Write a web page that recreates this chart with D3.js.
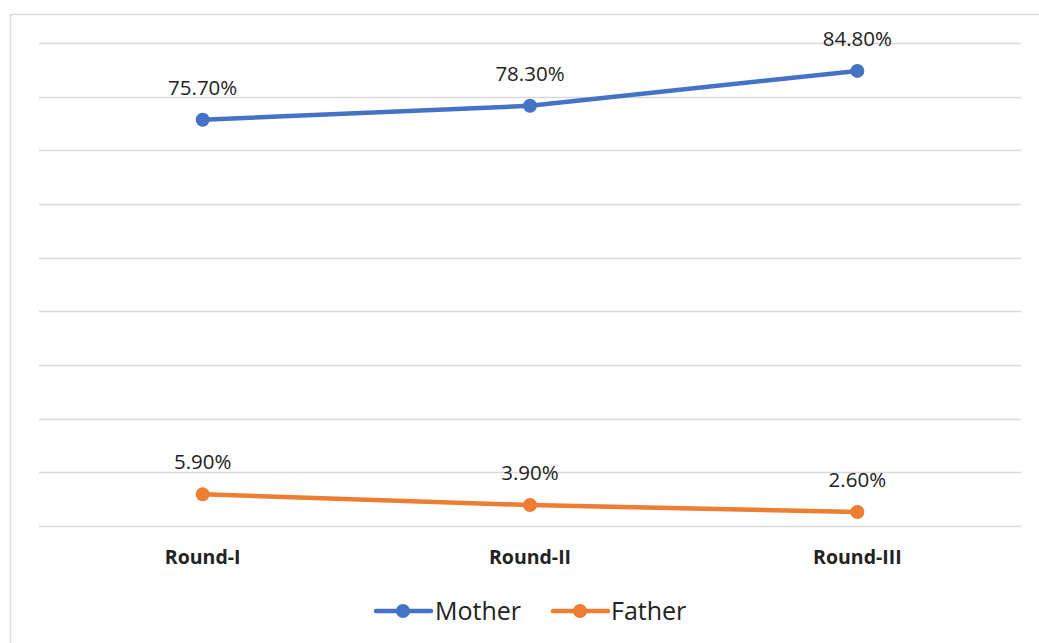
<!DOCTYPE html>
<html>
<head>
<meta charset="utf-8">
<script src="https://cdn.jsdelivr.net/npm/d3@7"></script>
<style>
  body { margin: 0; background: #fff; }
  text { font-family: "Open Sans", "Noto Sans", sans-serif; fill: #222; }
</style>
</head>
<body>
<div id="graphic"></div>
<script>
var rounds = ["Round-I", "Round-II", "Round-III"];
var seriesNames = ["Mother", "Father"];
var motherValues = [75.7, 78.3, 84.8];
var fatherValues = [5.9, 3.9, 2.6];
var yTicks = [0, 10, 20, 30, 40, 50, 60, 70, 80, 90];

var colors = ["#4472c4", "#ed7d31"];

var width = 1039,
    height = 643;

var margin = { top: 43, right: 18, bottom: 117, left: 39 };

var svg = d3.select("#graphic")
    .append("svg")
    .attr("width", width)
    .attr("height", height);

// chart frame
svg.append("rect")
    .attr("x", 10.5)
    .attr("y", 14.5)
    .attr("width", width)
    .attr("height", height)
    .attr("fill", "none")
    .attr("stroke", "#d9d9d9")
    .attr("stroke-width", 1.5);

var x = d3.scaleBand()
    .domain(rounds)
    .range([margin.left, width - margin.right]);

var y = d3.scaleLinear()
    .domain([0, 90])
    .range([height - margin.bottom, margin.top]);

// gridlines
svg.append("g")
    .selectAll("line")
    .data(yTicks)
    .enter().append("line")
    .attr("x1", margin.left)
    .attr("x2", width - margin.right)
    .attr("y1", d => Math.round(y(d)) + 0.5)
    .attr("y2", d => Math.round(y(d)) + 0.5)
    .attr("stroke", "#d9d9d9")
    .attr("stroke-width", 1.5);

// category axis labels
svg.append("g")
    .call(d3.axisBottom(x).tickSize(0).tickPadding(0))
    .attr("transform", "translate(0," + (height - margin.bottom + 24) + ")")
    .call(g => g.select(".domain").remove())
    .selectAll("text")
    .attr("font-size", 19.5)
    .attr("font-weight", "bold")
    .attr("font-family", "'Open Sans', sans-serif")
    .attr("fill", "#222");

var series = [
  { name: seriesNames[0], values: motherValues, color: colors[0] },
  { name: seriesNames[1], values: fatherValues, color: colors[1] }
];

var line = d3.line()
    .x((d, i) => x(rounds[i]) + x.bandwidth() / 2)
    .y(d => y(d));

series.forEach(function(s) {
  var g = svg.append("g");
  g.append("path")
      .datum(s.values)
      .attr("fill", "none")
      .attr("stroke", s.color)
      .attr("stroke-width", 4.5)
      .attr("stroke-linecap", "round")
      .attr("d", line);

  g.selectAll("circle")
      .data(s.values)
      .enter().append("circle")
      .attr("cx", (d, i) => x(rounds[i]) + x.bandwidth() / 2)
      .attr("cy", d => y(d))
      .attr("r", 7)
      .attr("fill", s.color);

  g.selectAll("text")
      .data(s.values)
      .enter().append("text")
      .attr("x", (d, i) => x(rounds[i]) + x.bandwidth() / 2)
      .attr("y", d => y(d) - 25)
      .attr("text-anchor", "middle")
      .attr("font-size", 20.5)
      .text(d => d.toFixed(2) + "%");
});

// legend
var legendY = 611;
var legendItems = [
  { name: seriesNames[0], color: colors[0], x: 376, tx: 435 },
  { name: seriesNames[1], color: colors[1], x: 553, tx: 611 }
];

var legend = svg.append("g");
legendItems.forEach(function(d) {
  legend.append("line")
      .attr("x1", d.x)
      .attr("x2", d.x + 55)
      .attr("y1", legendY)
      .attr("y2", legendY)
      .attr("stroke", d.color)
      .attr("stroke-width", 4.5)
      .attr("stroke-linecap", "round");
  legend.append("circle")
      .attr("cx", d.x + 27)
      .attr("cy", legendY)
      .attr("r", 7)
      .attr("fill", d.color);
  legend.append("text")
      .attr("x", d.tx)
      .attr("y", legendY)
      .attr("dy", "0.35em")
      .attr("font-size", 25)
      .text(d.name);
});
</script>
</body>
</html>
